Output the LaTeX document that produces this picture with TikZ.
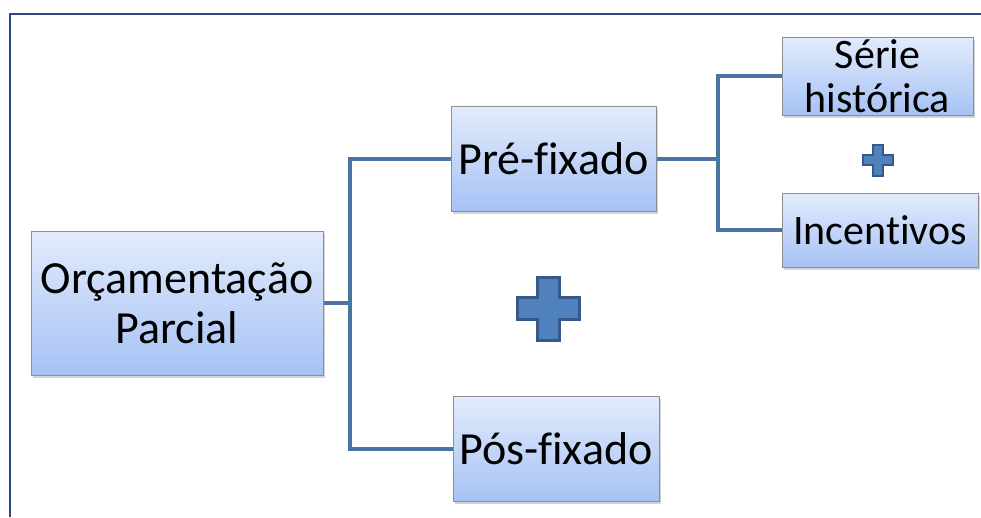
\documentclass[tikz,border=0pt]{standalone}
\usepackage{fontspec}
\setmainfont{Carlito}[RawFeature={-liga;-clig;-dlig;-calt}]
\usetikzlibrary{shadows}
\definecolor{frameblue}{HTML}{2A4A80}
\definecolor{linkblue}{HTML}{4A74A4}
\definecolor{boxtop}{HTML}{E2EBFC}
\definecolor{boxbot}{HTML}{A6C2F4}
\definecolor{boxedge}{HTML}{8E8E8E}
\definecolor{plusfill}{HTML}{4F81BD}
\definecolor{plusedge}{HTML}{36598A}
\tikzset{
  box/.style={draw=boxedge, line width=1pt, top color=boxtop, bottom color=boxbot,
    inner sep=0pt, align=center, text=black,
    drop shadow={shadow xshift=2pt, shadow yshift=-3pt, opacity=0.35, fill=gray}},
  bigtext/.style={font=\fontsize{46}{50}\selectfont},
  smalltext/.style={font=\fontsize{42}{44}\selectfont},
  link/.style={draw=linkblue, line width=4pt, line join=miter},
  plus/.style={fill=plusfill, draw=plusedge, line width=3pt, line join=miter},
}
\begin{document}
\begin{tikzpicture}[x=1pt, y=-1pt]
  \useasboundingbox (0,0) rectangle (981,517);
  % frame
  \draw[frameblue, line width=2pt] (981,14) -- (10,14) -- (10,517);

  % boxes
  \node[box, bigtext, minimum width=292pt, minimum height=144pt] (main) at (177,303) {Orçamentação\\Parcial};
  \node[box, bigtext, minimum width=205pt, minimum height=105pt] (pre) at (553.5,158.5) {Pré-fixado};
  \node[box, bigtext, minimum width=206pt, minimum height=105pt] (pos) at (556,448.5) {Pós-fixado};
  \node[box, minimum width=191pt, minimum height=78pt] (serie) at (877.5,76) {};
  \node[smalltext, align=center, inner sep=0pt] (serietext) at (877.5,76) {Série\\histórica};
  \node[box, smalltext, minimum width=196pt, minimum height=74pt] (inc) at (880,230) {Incentivos};

  % connectors
  \coordinate (j1) at (350,303);
  \coordinate (j2) at (718,158.5);
  \draw[link] (main.east) -- (j1);
  \draw[link] (pre.west) -| (j1) |- (pos.west);
  \draw[link] (pre.east) -- (j2);
  \draw[link] (serie.west) -| (j2) |- (inc.west);

  % plus signs
  \draw[plus] (537,277) -- (559,277) -- (559,297) -- (579,297) -- (579,319)
    -- (559,319) -- (559,340) -- (537,340) -- (537,319) -- (517,319)
    -- (517,297) -- (537,297) -- cycle;
  \draw[plus, line width=2.5pt] (873,145) -- (883,145) -- (883,155) -- (893,155) -- (893,165)
    -- (883,165) -- (883,176) -- (873,176) -- (873,165) -- (863,165)
    -- (863,155) -- (873,155) -- cycle;
\end{tikzpicture}
\end{document}
